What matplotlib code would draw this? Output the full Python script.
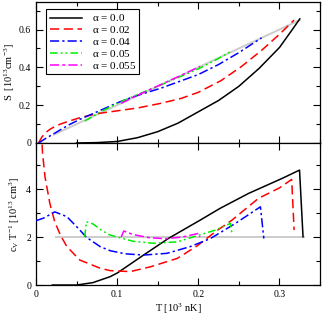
import numpy as np
import matplotlib
matplotlib.use("Agg")
import matplotlib.pyplot as plt
from matplotlib.ticker import MultipleLocator, FuncFormatter

plt.rcParams['font.family'] = ['Liberation Serif', 'DejaVu Serif']
plt.rcParams['mathtext.fontset'] = 'custom'
plt.rcParams['mathtext.rm'] = 'Liberation Serif'
plt.rcParams['mathtext.it'] = 'Liberation Serif'

# legend labels
labels = [r"$\mathrm{\alpha}$ = 0.0", r"$\mathrm{\alpha}$ = 0.02", r"$\mathrm{\alpha}$ = 0.04",
          r"$\mathrm{\alpha}$ = 0.05", r"$\mathrm{\alpha}$ = 0.055"]

# top panel: entropy S vs T
s_T_a0 = [0.05, 0.075, 0.1, 0.125, 0.15, 0.175, 0.2, 0.225, 0.25, 0.275, 0.3, 0.315, 0.325]
s_a0 = [0.0, 0.002, 0.008, 0.028, 0.06, 0.105, 0.165, 0.225, 0.3, 0.395, 0.505, 0.595, 0.656]
s_T_a02 = [0.003, 0.007, 0.011, 0.017, 0.023, 0.03, 0.04, 0.055, 0.075, 0.1, 0.125, 0.154,
           0.179, 0.2, 0.228, 0.253, 0.278, 0.3, 0.318]
s_a02 = [0.0, 0.03, 0.052, 0.072, 0.087, 0.1, 0.115, 0.135, 0.155, 0.17, 0.185, 0.21,
         0.236, 0.268, 0.33, 0.404, 0.49, 0.575, 0.65]
s_T_a04 = [0.003, 0.013, 0.023, 0.04, 0.054, 0.079, 0.1, 0.12, 0.154, 0.2, 0.225, 0.25, 0.265, 0.278]
s_a04 = [0.0, 0.027, 0.052, 0.095, 0.125, 0.172, 0.212, 0.245, 0.29, 0.362, 0.415, 0.478, 0.52, 0.556]
s_T_a05 = [0.06, 0.08, 0.1, 0.12, 0.154, 0.2, 0.221, 0.2416]
s_a05 = [0.116, 0.166, 0.209, 0.247, 0.307, 0.392, 0.438, 0.488]
s_T_a055 = [0.105, 0.12, 0.14, 0.16, 0.18, 0.2, 0.202]
s_a055 = [0.21, 0.242, 0.282, 0.321, 0.36, 0.401, 0.405]
s_T_ref = [0.022, 0.325]
s_ref = [0.044, 0.65]

# bottom panel: c_V / T vs T
c_T_a0 = [0.02, 0.05, 0.07, 0.0914, 0.1, 0.11, 0.1325, 0.163, 0.2025, 0.227, 0.262, 0.303, 0.3247, 0.329]
c_a0 = [0.0, 0.0, 0.1, 0.35, 0.5, 0.73, 1.25, 1.94, 2.71, 3.2, 3.82, 4.44, 4.79, 2.01]
c_T_a02 = [0.0055, 0.008, 0.011, 0.017, 0.023, 0.03, 0.038, 0.054, 0.079, 0.0914, 0.116, 0.141,
           0.174, 0.198, 0.221, 0.2416, 0.274, 0.3, 0.315, 0.318]
c_a02 = [7.0, 5.5, 4.51, 3.4, 2.64, 2.08, 1.6, 1.04, 0.7, 0.6, 0.56, 0.76,
         1.11, 1.62, 2.22, 2.71, 3.61, 4.05, 4.4, 2.29]
c_T_a04 = [0.0, 0.01, 0.023, 0.038, 0.054, 0.062, 0.079, 0.0914, 0.11, 0.1325, 0.161, 0.19,
           0.215, 0.2457, 0.2765, 0.2807]
c_a04 = [2.68, 2.8, 3.05, 2.85, 2.29, 1.99, 1.6, 1.43, 1.3, 1.25, 1.32, 1.6,
         1.94, 2.57, 3.26, 1.94]
c_T_a05 = [0.06, 0.062, 0.07, 0.08, 0.09, 0.1, 0.12, 0.145, 0.174, 0.2, 0.221, 0.2395, 0.2416]
c_a05 = [2.0, 2.64, 2.55, 2.3, 2.1, 2.0, 1.82, 1.74, 1.8, 2.07, 2.29, 2.57, 2.08]
c_T_a055 = [0.105, 0.108, 0.12, 0.14, 0.16, 0.18, 0.2, 0.202]
c_a055 = [2.0, 2.25, 2.1, 1.97, 1.93, 2.0, 2.15, 2.0]
c_T_ref = [0.025, 0.33]
c_ref = [2.0, 2.0]

colors = ['black', '#ff0000', '#0000ff', '#00ee00', '#ff00ff']
styles = ['-', (0, (6, 3)), (0, (6, 2, 1.5, 2)), (0, (5, 2, 1.2, 2, 1.2, 2)), (0, (6, 2, 2, 2))]

fig = plt.figure(figsize=(3.22, 3.16), dpi=100)
ax1 = fig.add_axes([0.112, 0.5475, 0.882, 0.4465])
ax2 = fig.add_axes([0.112, 0.098, 0.882, 0.4495])

top_sets = [(s_T_a0, s_a0), (s_T_a02, s_a02), (s_T_a04, s_a04), (s_T_a05, s_a05), (s_T_a055, s_a055)]
bot_sets = [(c_T_a0, c_a0), (c_T_a02, c_a02), (c_T_a04, c_a04), (c_T_a05, c_a05), (c_T_a055, c_a055)]

ax1.plot(s_T_ref, s_ref, color='#cccccc', lw=1.4, zorder=1)
ax2.plot(c_T_ref, c_ref, color='#cccccc', lw=1.4, zorder=1)
for i in range(5):
    ax1.plot(top_sets[i][0], top_sets[i][1], color=colors[i], ls=styles[i], lw=1.1, label=labels[i], zorder=2 + i)
    ax2.plot(bot_sets[i][0], bot_sets[i][1], color=colors[i], ls=styles[i], lw=1.1, zorder=2 + i)

fmt = FuncFormatter(lambda v, _: '0' if abs(v) < 1e-9 else f'{v:g}')
for ax in (ax1, ax2):
    ax.set_xlim(0, 0.35)
    ax.xaxis.set_major_locator(MultipleLocator(0.1))
    ax.xaxis.set_minor_locator(MultipleLocator(0.05))
    ax.tick_params(which='both', direction='in', top=True, right=True, labelsize=7)
    ax.tick_params(which='major', length=5, width=0.8)
    ax.tick_params(which='minor', length=3, width=0.8)
    ax.xaxis.set_major_formatter(fmt)
    ax.yaxis.set_major_formatter(fmt)
    for sp in ax.spines.values():
        sp.set_linewidth(0.9)

ax1.set_ylim(0, 0.746)
ax1.yaxis.set_major_locator(MultipleLocator(0.2))
ax1.yaxis.set_minor_locator(MultipleLocator(0.1))
ax1.tick_params(labelbottom=False)
ax1.set_ylabel(r"S  [10$^{13}$cm$^{-3}$]", fontsize=7.5, labelpad=1)

ax2.set_ylim(0, 5.92)
ax2.yaxis.set_major_locator(MultipleLocator(2))
ax2.yaxis.set_minor_locator(MultipleLocator(1))
ax2.set_ylabel(r"c$_\mathrm{V}$ T$^{-1}$ [10$^{13}$ cm$^{3}$]", fontsize=7.5, labelpad=3)
ax2.set_xlabel(r"T [10$^{3}$ nK]", fontsize=7.5, labelpad=2)

leg = ax1.legend(loc='upper left', bbox_to_anchor=(0.028, 0.965), fontsize=8, handlelength=2.9,
                 handletextpad=0.9, borderpad=0.3, labelspacing=0.08, fancybox=False,
                 edgecolor='black', framealpha=1, borderaxespad=0.2)
leg.get_frame().set_linewidth(0.8)

fig.savefig('out.png', dpi=100)
